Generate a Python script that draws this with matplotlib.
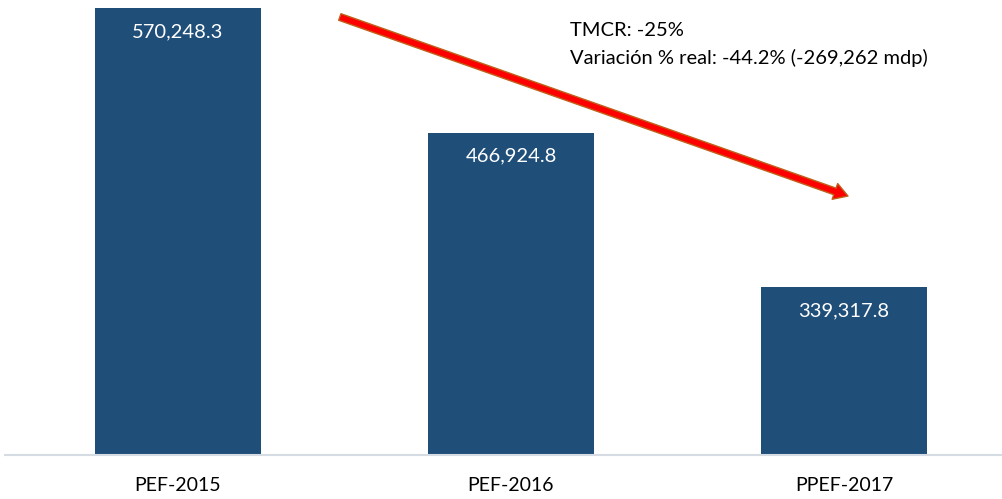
import matplotlib
matplotlib.use("Agg")
import matplotlib.pyplot as plt
from matplotlib.patches import FancyArrowPatch

categories = ["PEF-2015", "PEF-2016", "PPEF-2017"]
values = [570248.3, 466924.8, 339317.8]
value_labels = ["570,248.3", "466,924.8", "339,317.8"]
note_lines = ["TMCR: -25%", "Variación % real: -44.2% (-269,262 mdp)"]

plt.rcParams["font.family"] = ["Lato", "DejaVu Sans"]

fig = plt.figure(figsize=(10.02, 4.99), dpi=100)
ax = fig.add_axes([5 / 1002, 1 - 455 / 499, 997 / 1002, 455 / 499])

bar_color = "#1F4E79"
x = list(range(len(categories)))
bars = ax.bar(x, values, width=0.4985, color=bar_color, zorder=2)

ymin = 200000
ymax = ymin + 455 / 0.0012073
ax.set_ylim(ymin, ymax)
ax.set_xlim(-173 / 333, 824 / 333)

for b, lab in zip(bars, value_labels):
    ax.annotate(lab, (b.get_x() + b.get_width() / 2, b.get_height()),
                xytext=(0, -17), textcoords="offset points",
                ha="center", va="center", color="white", fontsize=14.5)

for s in ["top", "right", "left"]:
    ax.spines[s].set_visible(False)
ax.spines["bottom"].set_color("#D6DCE4")
ax.spines["bottom"].set_linewidth(1.5)
ax.set_yticks([])
ax.set_xticks(x)
ax.set_xticklabels(categories, fontsize=14, color="black")
ax.tick_params(axis="x", length=0, pad=16)

# Trend arrow
arrow = FancyArrowPatch(posA=(0.486, 562800), posB=(2.012, 414500),
                        arrowstyle="simple,head_length=1.0,head_width=1.2,tail_width=0.5",
                        mutation_scale=10, fc="#FF0000", ec="#C0601A", lw=1.0,
                        zorder=5, shrinkA=0, shrinkB=0)
ax.add_patch(arrow)

fig.text(570 / 1002, 1 - 30 / 499, note_lines[0], fontsize=14.5, va="center", ha="left")
fig.text(570 / 1002, 1 - 58 / 499, note_lines[1], fontsize=14.5, va="center", ha="left")

fig.savefig("out.png", dpi=100)
